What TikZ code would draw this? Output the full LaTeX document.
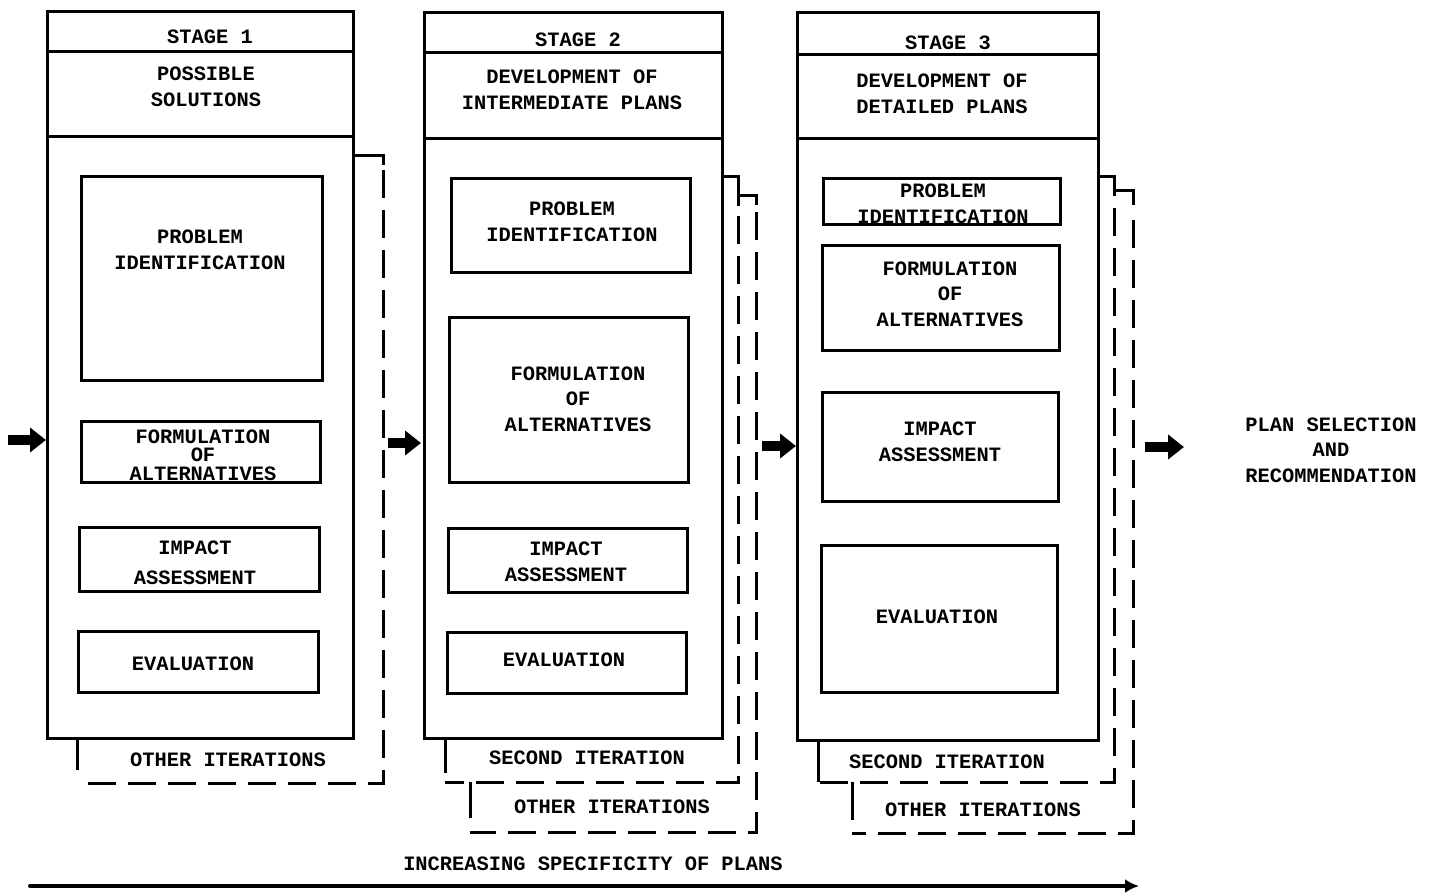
\documentclass[tikz,border=0pt]{standalone}
\usepackage{fontspec}
\setmonofont{Liberation Mono}
\usetikzlibrary{arrows.meta}

\tikzset{
  box/.style={line width=1.5pt},
  iter/.style={line width=1.5pt, dash pattern=on 14pt off 6pt},
  txt/.style={font=\ttfamily\bfseries\fontsize{10.2}{12.8}\selectfont, align=center, inner sep=0pt},
  tight/.style={txt, font=\ttfamily\bfseries\fontsize{10.2}{9.2}\selectfont},
  wide/.style={txt, font=\ttfamily\bfseries\fontsize{10.2}{15}\selectfont},
  fat/.style={line width=5pt, -{Triangle[length=8pt,width=12pt]}},
}

\begin{document}
\begin{tikzpicture}[x=0.5pt,y=-0.5pt]
\useasboundingbox (0,0) rectangle (1432,894);
%% stage 1
\draw [box] (47,11) rectangle (353,738);
\draw [box] (47,51) -- (353,51);
\draw [box] (47,136) -- (353,136);
\node (t1) at (210,37) [txt] {STAGE 1};
\node (h1) at (206,87) [txt] {POSSIBLE\\SOLUTIONS};
%
\draw [box] (81,176) rectangle (322,380);
\node (p1) at (200,250) [txt] {PROBLEM\\IDENTIFICATION};
\draw [box] (81,421) rectangle (320,482);
\node (f1) at (203,455) [tight] {FORMULATION\\OF\\ALTERNATIVES};
\draw [box] (79,527) rectangle (319,591);
\node (a1) at (195,563) [wide] {IMPACT\\ASSESSMENT};
\draw [box] (78,631) rectangle (318,692);
\node (e1) at (193,664) [txt] {EVALUATION};
%
\draw [box] (353,155) -- (383,155) -- (383,165);
\draw [iter] (383,170) -- (383,783) -- (77,783);
\draw [box] (77,738) -- (77,770);
\node (o1) at (228,760) [txt] {OTHER ITERATIONS};
%% stage 2
\draw [box] (424,12) rectangle (722,738);
\draw [box] (424,52) -- (722,52);
\draw [box] (424,138) -- (722,138);
\node (t2) at (578,40) [txt] {STAGE 2};
\node (h2) at (572,90) [txt] {DEVELOPMENT OF\\INTERMEDIATE PLANS};
%
\draw [box] (451,178) rectangle (690,272);
\node (p2) at (572,222) [txt] {PROBLEM\\IDENTIFICATION};
\draw [box] (449,317) rectangle (688,482);
\node (f2) at (578,399) [txt] {FORMULATION\\OF\\ALTERNATIVES};
\draw [box] (448,528) rectangle (687,592);
\node (a2) at (566,562) [txt] {IMPACT\\ASSESSMENT};
\draw [box] (447,632) rectangle (686,693);
\node (e2) at (564,660) [txt] {EVALUATION};
%
\draw [box] (722,176) -- (738,176) -- (738,206);
\draw [iter] (738,216) -- (738,782) -- (445,782);
\draw [box] (445,738) -- (445,773);
\node (s2) at (587,758) [txt] {SECOND ITERATION};
\draw [box] (738,195) -- (756,195) -- (756,205);
\draw [iter] (756,212) -- (756,832) -- (470,832);
\draw [box] (470,782) -- (470,818);
\node (o2) at (612,807) [txt] {OTHER ITERATIONS};
%% stage 3
\draw [box] (797,12) rectangle (1098,740);
\draw [box] (797,54) -- (1098,54);
\draw [box] (797,138) -- (1098,138);
\node (t3) at (948,43) [txt] {STAGE 3};
\node (h3) at (942,94) [txt] {DEVELOPMENT OF\\DETAILED PLANS};
%
\draw [box] (823,178) rectangle (1060,224);
\node (p3) at (943,204) [txt] {PROBLEM\\IDENTIFICATION};
\draw [box] (822,245) rectangle (1059,350);
\node (f3) at (950,294) [txt] {FORMULATION\\OF\\ALTERNATIVES};
\draw [box] (822,392) rectangle (1058,501);
\node (a3) at (940,442) [txt] {IMPACT\\ASSESSMENT};
\draw [box] (821,545) rectangle (1057,692);
\node (e3) at (937,617) [txt] {EVALUATION};
%
\draw [box] (1098,176) -- (1114,176) -- (1114,196);
\draw [iter] (1114,208) -- (1114,782) -- (818,782);
\draw [box] (818,740) -- (818,782);
\node (s3) at (947,762) [txt] {SECOND ITERATION};
\draw [box] (1114,190) -- (1133,190) -- (1133,205);
\draw [iter] (1133,220) -- (1133,833) -- (852,833);
\draw [box] (852,782) -- (852,820);
\node (o3) at (983,810) [txt] {OTHER ITERATIONS};
%% arrows
\coordinate (in0) at (8,440);
\coordinate (in1) at (46,440);
\coordinate (out1) at (388,443);
\coordinate (in2) at (421,443);
\coordinate (out2) at (762,446);
\coordinate (in3) at (796,446);
\coordinate (out3) at (1145,447);
\coordinate (in4) at (1184,447);
\draw [fat] (in0) -- (in1);
\draw [fat] (out1) -- (in2);
\draw [fat] (out2) -- (in3);
\draw [fat] (out3) -- (in4);
\node (plan) at (1331,450) [txt] {PLAN SELECTION\\AND\\RECOMMENDATION};
%% specificity
\node (spec) at (593,864) [txt] {INCREASING SPECIFICITY OF PLANS};
\coordinate (lo) at (30,886);
\coordinate (hi) at (1139,886);
\draw [line width=2pt, line cap=round, -{Latex[length=7pt,width=7pt]}] (lo) -- (hi);
\end{tikzpicture}
\end{document}
